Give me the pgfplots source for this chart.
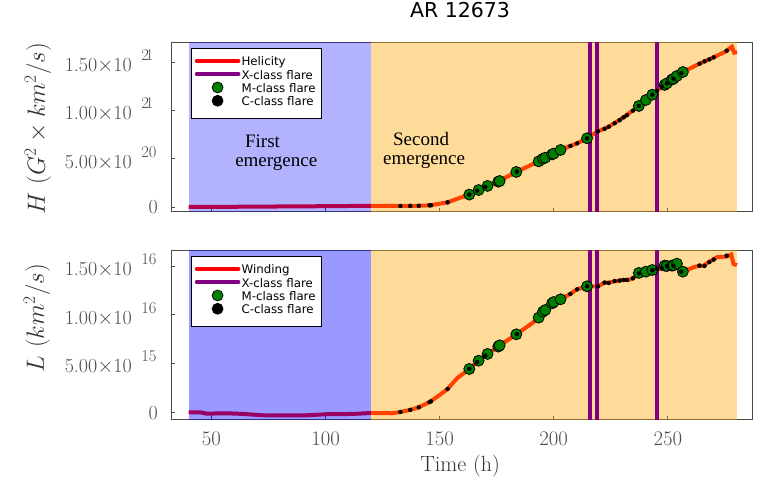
\documentclass[border=0pt]{standalone}
\usepackage{fontspec}
\usepackage{pgfplots}
\usepackage{pgfplotstable}
\pgfplotsset{compat=1.18}
\newfontfamily\djv{DejaVu Sans}
\newfontfamily\tms{Liberation Serif}
\definecolor{tickgray}{RGB}{75,75,75}
\definecolor{labgray}{RGB}{50,50,50}
\definecolor{flarepurple}{RGB}{128,0,128}
\definecolor{mgreen}{RGB}{0,128,0}
\definecolor{regblue}{RGB}{0,0,255}
\definecolor{regorange}{RGB}{255,165,0}

% units: H in 1e20, L in 1e15
\pgfplotstableread{
t H
40 0.00
60 0.02
80 0.05
100 0.08
120.1 0.12
132.8 0.10
140.9 0.12
145.9 0.17
153.5 0.48
159.1 0.97
163.0 1.28
167.1 1.76
171.0 2.18
176.0 2.69
183.6 3.63
193.4 4.73
196.3 5.11
200.0 5.53
203.0 5.91
210.2 6.60
214.6 7.12
219.1 7.81
224.1 8.32
230.6 9.29
237.3 10.47
240.4 11.09
243.2 11.64
247.4 12.47
249.6 12.82
252.5 13.30
254.0 13.58
256.6 13.99
264.2 14.89
270.1 15.51
275.2 16.10
278.1 16.61
279.1 15.99
280.3 16.06
}\helicity

\pgfplotstableread{
t L
40 0.00
45 0.00
48 -0.14
56.6 -0.10
64 -0.17
72.7 -0.31
81.5 -0.31
91.7 -0.31
100.4 -0.20
112 -0.17
120.1 -0.07
129.1 -0.10
132.8 0.03
137.1 0.24
140.9 0.51
145.9 1.09
151.0 1.94
153.5 2.39
157.6 3.48
163.0 4.44
167.1 5.29
171.0 5.98
176.0 6.80
183.6 7.99
190.5 9.12
193.4 9.70
196.3 10.45
200.0 11.27
203.0 11.58
207.3 12.13
210.2 12.60
214.6 12.91
219.4 12.91
222.3 13.29
224.1 13.29
226.7 13.42
230.6 13.56
232.8 13.56
234.7 13.73
237.3 14.24
240.4 14.41
243.2 14.55
247.4 14.75
249.6 14.99
252.5 15.03
254.0 15.23
256.6 14.41
259.1 14.65
261.3 14.86
263.9 15.03
265.4 15.00
268.3 15.44
271.5 15.89
275.8 15.96
277.8 16.16
278.8 15.20
280.3 15.07
}\winding

\pgfplotstableread{
t H L
163.0 1.28 4.44
167.1 1.76 5.29
171.0 2.18 5.98
175.7 2.62 6.73
176.3 2.69 6.86
183.6 3.63 7.99
193.4 4.73 9.70
195.3 5.00 10.31
196.3 5.11 10.48
199.3 5.45 11.17
200.0 5.53 11.30
203.0 5.91 11.58
214.6 7.12 12.91
237.3 10.47 14.28
240.4 11.09 14.41
243.2 11.64 14.58
248.6 12.65 15.03
249.6 12.82 14.99
251.8 13.20 15.03
252.5 13.30 15.06
254.0 13.58 15.23
256.6 13.99 14.41
}\mflares

\pgfplotstableread{
t H L
132.8 0.10 0.03
137.1 0.11 0.24
140.9 0.12 0.51
145.6 0.17 1.05
146.2 0.18 1.12
153.5 0.48 2.39
163.0 1.28 4.44
166.4 1.68 5.15
170.0 2.07 5.80
183.9 3.67 8.00
207.3 6.32 12.13
210.3 6.60 12.60
214.6 7.12 12.91
219.4 7.85 12.91
222.3 8.10 13.29
224.1 8.32 13.25
226.7 8.68 13.45
228.9 9.00 13.50
230.6 9.29 13.56
232.1 9.52 13.56
234.7 9.98 13.73
237.3 10.47 14.24
243.2 11.64 14.55
245.2 12.05 14.70
247.4 12.47 14.75
249.6 12.82 14.99
252.5 13.30 15.03
255.9 13.87 14.41
263.9 14.85 15.03
266.1 15.10 15.00
268.2 15.30 15.40
270.1 15.51 15.65
275.8 16.20 16.05
}\cflares

% tick label: mantissa, then the exponent set apart and raised
\newcommand{\ticklab}[2]{\smash{\raisebox{-9.3pt}{\makebox[93pt][l]{\makebox[76.5pt][l]{#1$\times$10}\raisebox{11pt}{\fontsize{16.5}{18}\selectfont #2}}}}}
\newcommand{\tickzero}{\smash{\raisebox{-7pt}{0}}}

\pgfplotsset{
  flarepanel/.style={
    scale only axis,
    width=581.2pt,
    xmin=32.5, xmax=287.2,
    xtick={50,100,150,200,250},
    tick align=inside,
    xtick pos=left, ytick pos=left,
    major tick length=3.5pt,
    tick style={tickgray,line width=0.7pt},
    axis line style={tickgray,line width=1pt},
    clip=true,
    tick label style={font=\fontsize{20}{22}\selectfont,text=tickgray,inner sep=0pt},
    yticklabel style={xshift=-13.5pt},
    xticklabel style={yshift=-12pt},
    legend style={
      at={(0.033,0.967)},anchor=north west,
      draw=black,line width=0.8pt,fill=white,
      font=\djv\fontsize{11.8}{13}\selectfont,
      inner xsep=5.5pt,inner ysep=8.7pt,
      row sep=1.3pt,column sep=3pt,
      nodes={inner sep=0pt,text height=6.5pt,text depth=3.5pt},
    },
    legend cell align=left,
  },
  lineimg/.style={legend image code/.code={
    \path[draw=none] (0pt,0pt) rectangle (42pt,7pt);
    \pgfinterruptboundingbox
    \draw[#1,line width=3.6pt,line cap=round] (0pt,3.5pt) -- (42pt,3.5pt);
    \endpgfinterruptboundingbox}},
  dotimg/.style={legend image code/.code={
    \path[draw=none] (0pt,0pt) rectangle (42pt,7pt);
    \pgfinterruptboundingbox
    \filldraw[fill=#1,draw=black,line width=0.7pt] (21pt,3.5pt) circle (5.5pt);
    \endpgfinterruptboundingbox}},
  lineplot/.style={red,line width=4pt,forget plot},
  regionplot/.style={fill=#1,draw=none,forget plot},
  xflare/.style={flarepurple,line width=3.8pt,forget plot},
  mplot/.style={only marks,mark=*,mark size=5.5pt,
    mark options={fill=mgreen,draw=black,line width=0.8pt},forget plot},
  cplot/.style={only marks,mark=*,mark size=2pt,
    mark options={fill=black,draw=none},forget plot},
}

\begin{document}
\begin{tikzpicture}
\useasboundingbox (0pt,0pt) rectangle (763pt,502pt);

\begin{axis}[
    flarepanel,
    at={(171.5pt,290.3pt)},anchor=south west,
    height=169pt,
    ymin=-0.49, ymax=17.03,
    ytick={0,5,10,15},
    yticklabels={\tickzero,\ticklab{5.00}{20},\ticklab{1.00}{2\hspace{-3pt}1},\ticklab{1.50}{2\hspace{-3pt}1}},
    xticklabels={},
    every axis y label/.style={at={(axis description cs:-0.2298,0.491)},rotate=90,anchor=center},
    ylabel={\fontsize{25}{28}\selectfont\color{labgray}$H~(G^2\times km^2/s)$},
    every axis title/.style={at={(axis description cs:0.4965,1.125)},anchor=south},
    title={\djv\fontsize{20.5}{23}\selectfont AR 12673},
  ]
  \addlegendimage{lineimg=red}
  \addlegendimage{lineimg=flarepurple}
  \addlegendimage{dotimg=mgreen}
  \addlegendimage{dotimg=black}
  \addlegendentry{Helicity}
  \addlegendentry{X-class flare}
  \addlegendentry{M-class flare}
  \addlegendentry{C-class flare}

  \addplot[lineplot] table[x=t,y=H] {\helicity};
  \addplot[regionplot=regblue,fill opacity=0.3] coordinates {(40,-5) (120,-5) (120,30) (40,30)} --cycle;
  \addplot[regionplot=regorange,fill opacity=0.4] coordinates {(120,-5) (280.3,-5) (280.3,30) (120,30)} --cycle;
  \addplot[xflare] coordinates {(216,-5) (216,30)};
  \addplot[xflare] coordinates {(219.1,-5) (219.1,30)};
  \addplot[xflare] coordinates {(245.4,-5) (245.4,30)};
  \addplot[mplot] table[x=t,y=H] {\mflares};
  \addplot[cplot] table[x=t,y=H] {\cflares};

  \node[font=\tms\fontsize{19}{22}\selectfont] at (axis cs:72.4,6.84) {First};
  \node[font=\tms\fontsize{19}{22}\selectfont] at (axis cs:78.4,4.46) {emergence};
  \node[font=\tms\fontsize{19}{22}\selectfont] at (axis cs:141.9,7.05) {Second};
  \node[font=\tms\fontsize{19}{22}\selectfont] at (axis cs:143.2,4.66) {emergence};
\end{axis}

\begin{axis}[
    flarepanel,
    at={(171.5pt,82pt)},anchor=south west,
    height=169.3pt,
    ymin=-0.79, ymax=16.56,
    ytick={0,5,10,15},
    yticklabels={\tickzero,\ticklab{5.00}{15},\ticklab{1.00}{16},\ticklab{1.50}{16}},
    every axis y label/.style={at={(axis description cs:-0.2315,0.602)},rotate=90,anchor=center},
    ylabel={\fontsize{25}{28}\selectfont\color{labgray}$L~(km^2/s)$},
    every axis x label/.style={at={(axis description cs:0.4965,-0.272)},anchor=center},
    xlabel={\fontsize{22}{26}\selectfont\color{labgray}Time (h)},
  ]
  \addlegendimage{lineimg=red}
  \addlegendimage{lineimg=flarepurple}
  \addlegendimage{dotimg=mgreen}
  \addlegendimage{dotimg=black}
  \addlegendentry{Winding}
  \addlegendentry{X-class flare}
  \addlegendentry{M-class flare}
  \addlegendentry{C-class flare}

  \addplot[lineplot] table[x=t,y=L] {\winding};
  \addplot[regionplot=regblue,fill opacity=0.4] coordinates {(40,-5) (120,-5) (120,30) (40,30)} --cycle;
  \addplot[regionplot=regorange,fill opacity=0.4] coordinates {(120,-5) (280.3,-5) (280.3,30) (120,30)} --cycle;
  \addplot[xflare] coordinates {(216,-5) (216,30)};
  \addplot[xflare] coordinates {(219.1,-5) (219.1,30)};
  \addplot[xflare] coordinates {(245.4,-5) (245.4,30)};
  \addplot[mplot] table[x=t,y=L] {\mflares};
  \addplot[cplot] table[x=t,y=L] {\cflares};
\end{axis}
\end{tikzpicture}
\end{document}
